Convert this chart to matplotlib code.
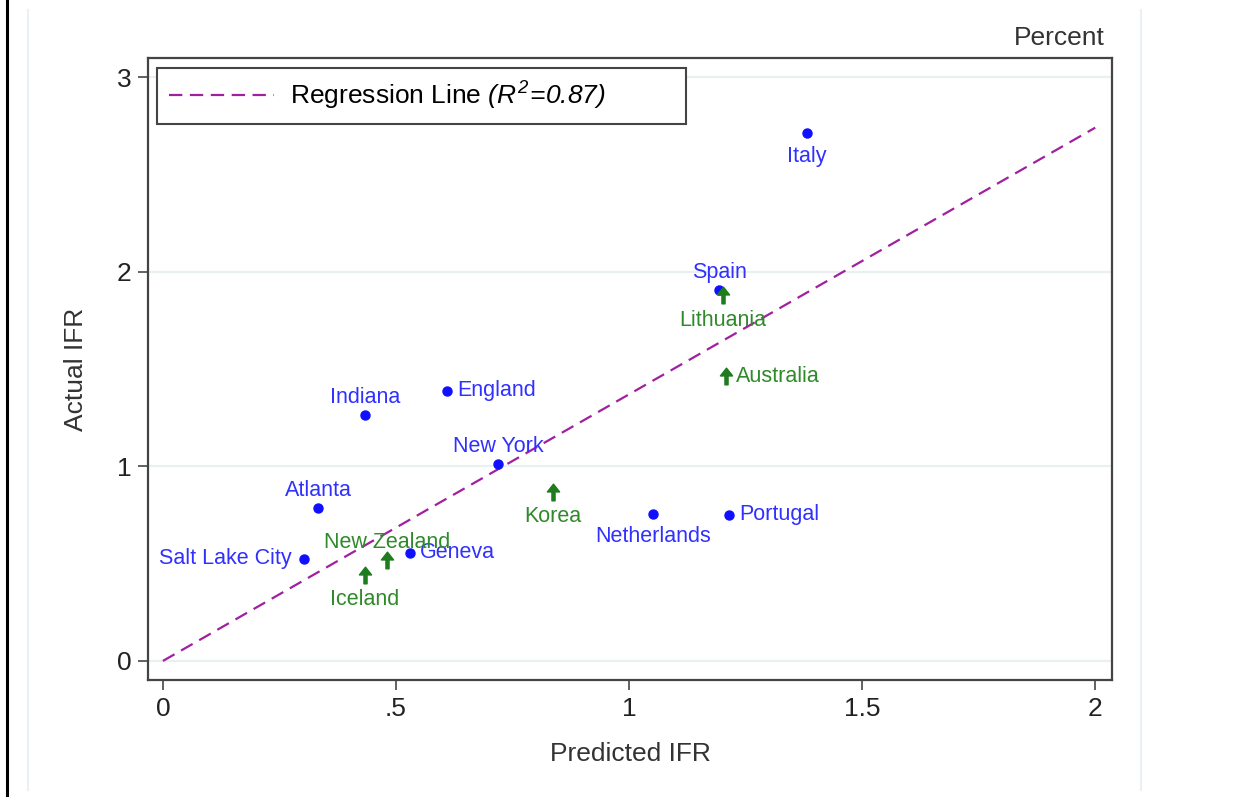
import matplotlib.pyplot as plt
import numpy as np
from matplotlib.lines import Line2D
from matplotlib.path import Path

plt.rcParams["font.family"] = ["Liberation Sans", "DejaVu Sans"]
plt.rcParams["mathtext.fontset"] = "custom"
plt.rcParams["mathtext.rm"] = "Liberation Sans:italic"
plt.rcParams["mathtext.it"] = "Liberation Sans:italic"

# data (predicted IFR, actual IFR), in percent
blue_names = ["Italy", "Spain", "England", "Indiana", "New York", "Atlanta",
              "Netherlands", "Portugal", "Salt Lake City", "Geneva"]
blue_pred = [1.382, 1.193, 0.609, 0.433, 0.719, 0.333, 1.052, 1.215, 0.303, 0.530]
blue_act = [2.712, 1.906, 1.387, 1.264, 1.012, 0.786, 0.755, 0.750, 0.524, 0.555]
blue_pos = ["below", "above", "right", "above", "above", "above",
            "below", "right", "left", "right"]

green_names = ["Korea", "Lithuania", "Australia", "New Zealand", "Iceland"]
green_pred = [0.837, 1.202, 1.208, 0.481, 0.433]
green_act = [0.868, 1.880, 1.464, 0.519, 0.442]
green_pos = ["below", "below", "right", "above", "below"]

reg_slope = 1.37
reg_x = [0, 2]
r2 = 0.87

xticks = [0, 0.5, 1, 1.5, 2]
xtick_labels = ["0", ".5", "1", "1.5", "2"]
yticks = [0, 1, 2, 3]

BLUE = "#1010ff"
BLUE_TXT = "#3030ff"
GREEN = "#1e7b1e"
GREEN_TXT = "#2f8a2a"
PURPLE = "#a0209f"

# up-arrow marker used for the green points
arrow = Path([(0, 0.75), (0.55, 0.05), (0.14, 0.05), (0.14, -0.75),
              (-0.14, -0.75), (-0.14, 0.05), (-0.55, 0.05), (0, 0.75)],
             [Path.MOVETO] + [Path.LINETO] * 6 + [Path.CLOSEPOLY])

fig = plt.figure(figsize=(12.48, 7.97), dpi=100)
ax = fig.add_axes([148 / 1248, 117 / 797, 964 / 1248, 622 / 797])

# background frame lines
fig.add_artist(Line2D([7 / 1248, 7 / 1248], [0, 1], color="black", lw=2.2))
for xp in [28, 1141]:
    fig.add_artist(Line2D([xp / 1248, xp / 1248], [7 / 797, 787 / 797],
                          color="#eaf1f4", lw=1.5))

ax.set_xlim(-0.032, 2.036)
ax.set_ylim(-0.098, 3.098)
for yv in yticks:
    ax.axhline(yv, color="#e9f0f2", lw=1.6, zorder=0)

xr = np.array(reg_x)
reg_label = (r"Regression Line $(R^{2}\!=\!" + f"{r2:.2f}" + r")$"
             + "          ")
ax.plot(xr, reg_slope * xr, color=PURPLE, lw=1.6, dashes=(6, 3.4),
        label=reg_label, zorder=2)

ax.plot(blue_pred, blue_act, "o", color=BLUE, ms=6.5, zorder=3)
ax.plot(green_pred, green_act, ls="none", marker=arrow, color=GREEN, ms=12, zorder=3)

offsets = {"above": (0, 17, "center", "center"),
           "below": (0, -23, "center", "center"),
           "right": (10, 0, "left", "center"),
           "left": (-13, 0, "right", "center")}


def label_points(names, xs, ys, pos, color, extra=0):
    for n, x, y, p in zip(names, xs, ys, pos):
        dx, dy, ha, va = offsets[p]
        if p == "below":
            dy -= extra
        ax.annotate(n, (x, y), xytext=(dx, dy), textcoords="offset pixels",
                    ha=ha, va=va, color=color, fontsize=15.5, zorder=4)


label_points(blue_names, blue_pred, blue_act, blue_pos, BLUE_TXT)
label_points(green_names, green_pred, green_act, green_pos, GREEN_TXT, extra=2)

ax.set_xticks(xticks)
ax.set_xticklabels(xtick_labels)
ax.set_yticks(yticks)
ax.tick_params(axis="both", direction="out", length=7, width=1.3,
               color="#555555", labelsize=19, labelcolor="#222222", pad=5)
for s in ax.spines.values():
    s.set_color("#444444")
    s.set_linewidth(1.6)

ax.set_xlabel("Predicted IFR", fontsize=19, color="#333333")
ax.set_ylabel("Actual IFR", fontsize=19, color="#333333")
ax.xaxis.set_label_coords(0.5, -0.100)
ax.yaxis.set_label_coords(-0.062, 0.5)

leg = ax.legend(loc="upper left", bbox_to_anchor=(9 / 964, 1 - 10 / 622),
                borderaxespad=0, fontsize=19, handlelength=4.0,
                handletextpad=0.6, borderpad=0.45, fancybox=False, framealpha=1)
leg.get_frame().set_edgecolor("#444444")
leg.get_frame().set_linewidth(1.5)

fig.text(1105 / 1248, 1 - 38 / 797, "Percent", ha="right", va="center",
         fontsize=19, color="#333333")

fig.savefig("out.png", dpi=100)
